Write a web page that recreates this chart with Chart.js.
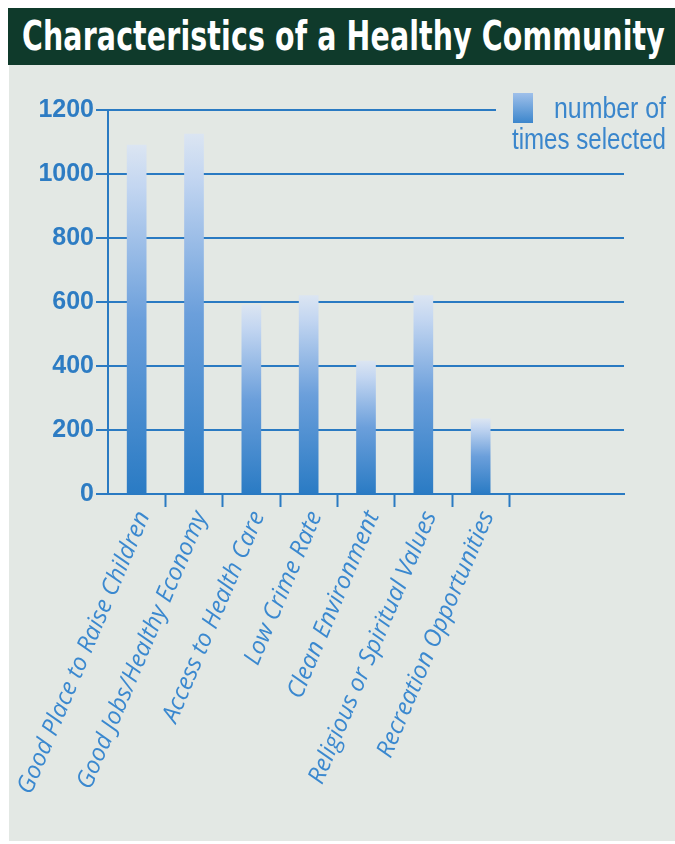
<!DOCTYPE html>
<html>
<head>
<meta charset="utf-8">
<script src="https://cdn.jsdelivr.net/npm/chart.js@4.4.1/dist/chart.umd.min.js"></script>
<style>
  html, body { margin: 0; padding: 0; background: #fff; }
  body { width: 675px; height: 844px; position: relative; overflow: hidden; }
  .panel { position: absolute; left: 9px; top: 65px; right: 0; bottom: 3px; background: #e3e8e4; }
  .title-bar { position: absolute; left: 8px; top: 8px; right: 0; height: 57px; background: #0f3a2b; }
  .title-bar h1 {
    margin: 0; position: absolute; left: 14px; top: 5px;
    font: bold 40px "Liberation Sans Narrow", "DejaVu Sans Condensed", sans-serif;
    color: #fff; white-space: nowrap; transform-origin: left top; letter-spacing: 0.2px;
  }
  #wrap { position: absolute; left: 0; top: 0; width: 675px; height: 844px; }
</style>
</head>
<body>
<div class="title-bar"><h1 id="title">Characteristics of a Healthy Community</h1></div>
<div class="panel"></div>
<div id="wrap"><canvas id="chart"></canvas></div>
<script>
const categories = [
  "Good Place to Raise Children",
  "Good Jobs/Healthy Economy",
  "Access to Health Care",
  "Low Crime Rate",
  "Clean Environment",
  "Religious or Spiritual Values",
  "Recreation Opportunities"
];
const timesSelected = [1090, 1125, 590, 620, 415, 620, 235];
const yTicks = [0, 200, 400, 600, 800, 1000, 1200];
const seriesName = ["number of", "times selected"];

const BLUE = "#2a7ac2";
const PANEL = "#e3e8e4";

// squeeze the title to the width it has in the original
const title = document.getElementById("title");
title.style.transform = "scaleX(" + (643 / title.getBoundingClientRect().width) + ")";

function barGradient(ctx, base, top) {
  const g = ctx.createLinearGradient(0, base, 0, top);
  g.addColorStop(0, "#2a7bc4");
  g.addColorStop(0.5, "#6b9fdb");
  g.addColorStop(0.88, "#c3d6f1");
  g.addColorStop(1, "#dbe5f2");
  return g;
}

const legendBox = {
  id: "legendBox",
  afterDraw(chart) {
    const ctx = chart.ctx;
    const right = chart.width - 9;
    ctx.save();
    ctx.fillStyle = PANEL;
    ctx.fillRect(496, 86, chart.width - 496, 74);
    const g = ctx.createLinearGradient(0, 93, 0, 123);
    g.addColorStop(0, "#9fc0ea");
    g.addColorStop(1, "#3c86cc");
    ctx.fillStyle = g;
    ctx.fillRect(513, 93, 20, 30);
    ctx.fillStyle = "#3a86cc";
    ctx.font = '29px "Liberation Sans", Arial, sans-serif';
    ctx.textAlign = "right";
    ctx.textBaseline = "alphabetic";
    // narrow face: fillText's maxWidth squeezes the glyphs like the original
    ctx.fillText(seriesName[0], right, 118, 112);
    ctx.fillText(seriesName[1], right, 149, 154);
    ctx.restore();
  }
};

new Chart(document.getElementById("chart"), {
  type: "bar",
  data: {
    // two empty slots keep the blank room at the right of the axis
    labels: [...categories, "", ""],
    datasets: [{
      label: seriesName.join(" "),
      data: timesSelected,
      barThickness: 19,
      backgroundColor: (c) => {
        const chart = c.chart;
        if (!chart.chartArea || c.raw == null) return "#2a7bc4";
        const y = chart.scales.y;
        return barGradient(chart.ctx, y.getPixelForValue(0), y.getPixelForValue(c.raw));
      },
      borderWidth: 0
    }]
  },
  options: {
    responsive: true,
    maintainAspectRatio: false,
    animation: false,
    layout: { padding: { top: 110, right: 51, bottom: 0, left: 0 } },
    plugins: {
      legend: { display: false },
      tooltip: { enabled: false }
    },
    scales: {
      x: {
        afterFit: (s) => { s.height = 350; },
        border: { display: true, color: BLUE, width: 2 },
        grid: {
          drawOnChartArea: false,
          drawTicks: true,
          tickLength: 13,
          tickWidth: 2,
          offset: true,
          tickColor: (c) => (c.index >= 1 && c.index <= categories.length) ? BLUE : "rgba(0,0,0,0)"
        },
        ticks: {
          autoSkip: false,
          minRotation: 67,
          maxRotation: 67,
          padding: 0,
          labelOffset: 7,
          color: "#3a88cf",
          font: { family: '"Open Sans", "Noto Sans", sans-serif', size: 24, style: "italic" }
        }
      },
      y: {
        min: yTicks[0],
        max: yTicks[yTicks.length - 1],
        afterFit: (s) => { s.width = 108; },
        afterBuildTicks: (s) => { s.ticks = yTicks.map((v) => ({ value: v })); },
        border: { display: true, color: BLUE, width: 2 },
        grid: {
          color: BLUE,
          lineWidth: 2,
          drawTicks: true,
          tickLength: 12,
          tickColor: BLUE
        },
        ticks: {
          padding: 2,
          color: "#2d7cc3",
          callback: (v) => String(v),
          font: { family: '"Liberation Sans", Arial, sans-serif', size: 25, weight: "bold" }
        }
      }
    }
  },
  plugins: [legendBox]
});
</script>
</body>
</html>
